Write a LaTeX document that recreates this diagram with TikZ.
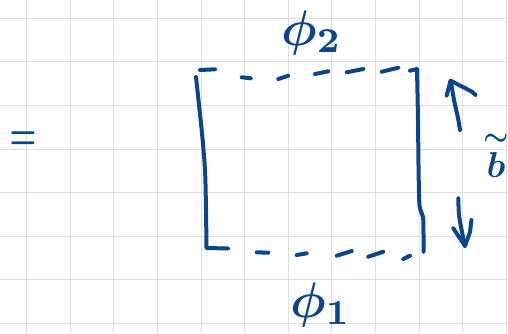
\documentclass[tikz,border=0pt]{standalone}
\usepackage{amsmath}
\usepackage{graphicx}
\definecolor{ink}{RGB}{10,70,140}
\definecolor{gridc}{RGB}{222,222,222}
\begin{document}
\begin{tikzpicture}[x=1pt,y=-1pt,
  gridline/.style={draw=gridc,line width=1pt},
  pen/.style={draw=ink,line width=4pt,line cap=round,line join=round},
  hand/.style={text=ink,inner sep=0pt}]
\useasboundingbox[fill=white] (0,0) rectangle (508,333);
% grid
\foreach \i in {0,...,11} \draw[gridline] ({26.7+43.6*\i},0) -- ({26.7+43.6*\i},333);
\foreach \i in {0,...,7} \draw[gridline] (0,{18.3+43.6*\i}) -- (508,{18.3+43.6*\i});
% left solid side with bottom hook
\draw[pen] plot[smooth] coordinates {(196,77) (199,105) (202,133) (205,170) (206,210) (206.5,248)} -- (228,248.5);
% right solid side with top hook
\draw[pen] (410,70.7) -- (417,69) plot[smooth] coordinates {(417,69) (418,120) (418.5,165) (419.5,205) (423,217) (423.5,235) (423.5,251.7)};
% top dashes
\draw[pen] (200,70) -- (215,69.3);
\draw[pen] (241.7,77.3) -- (250.7,78.3);
\draw[pen] (278.3,79) -- (288.3,75.7);
\draw[pen] (315,74) -- (328.3,71.3);
\draw[pen] (346.7,72.3) -- (363.3,69);
\draw[pen] (381.7,71.7) -- (398.3,67.7);
% bottom dashes
\draw[pen] (256.7,252.3) -- (268.3,252.7);
\draw[pen] (296.7,255) -- (306.7,253.3);
\draw[pen] (336.7,255.7) -- (351.7,251);
\draw[pen] (368.3,256.7) -- (383.3,251.7);
\draw[pen] (403.3,259) -- (410,255.7);
% up arrow
\draw[pen] (446.7,95.5) -- (450.5,80.7) -- (471.7,91.5) -- (475.5,95);
\draw[pen] plot[smooth] coordinates {(451,82) (454,100) (458,118) (460,130)};
% down arrow
\draw[pen] plot[smooth] coordinates {(458.3,198.3) (459,215) (462,232) (465,246)};
\draw[pen] (453.3,228.3) -- (465,246) -- (470,232) -- (471.5,220);
% labels
\node[hand,anchor=base west] (phi2) at (281,45) {\scalebox{5}{\boldmath$\phi_2$}};
\node[hand,anchor=base west] (phi1) at (290,317) {\scalebox{5}{\boldmath$\phi_1$}};
\node[hand,anchor=base west] (bt) at (483,177) {\scalebox{3.6}{\boldmath$\overset{\sim}{b}$}};
\node[hand] (eq) at (23,141) {\scalebox{3}[4.5]{\boldmath$=$}};
\end{tikzpicture}
\end{document}
